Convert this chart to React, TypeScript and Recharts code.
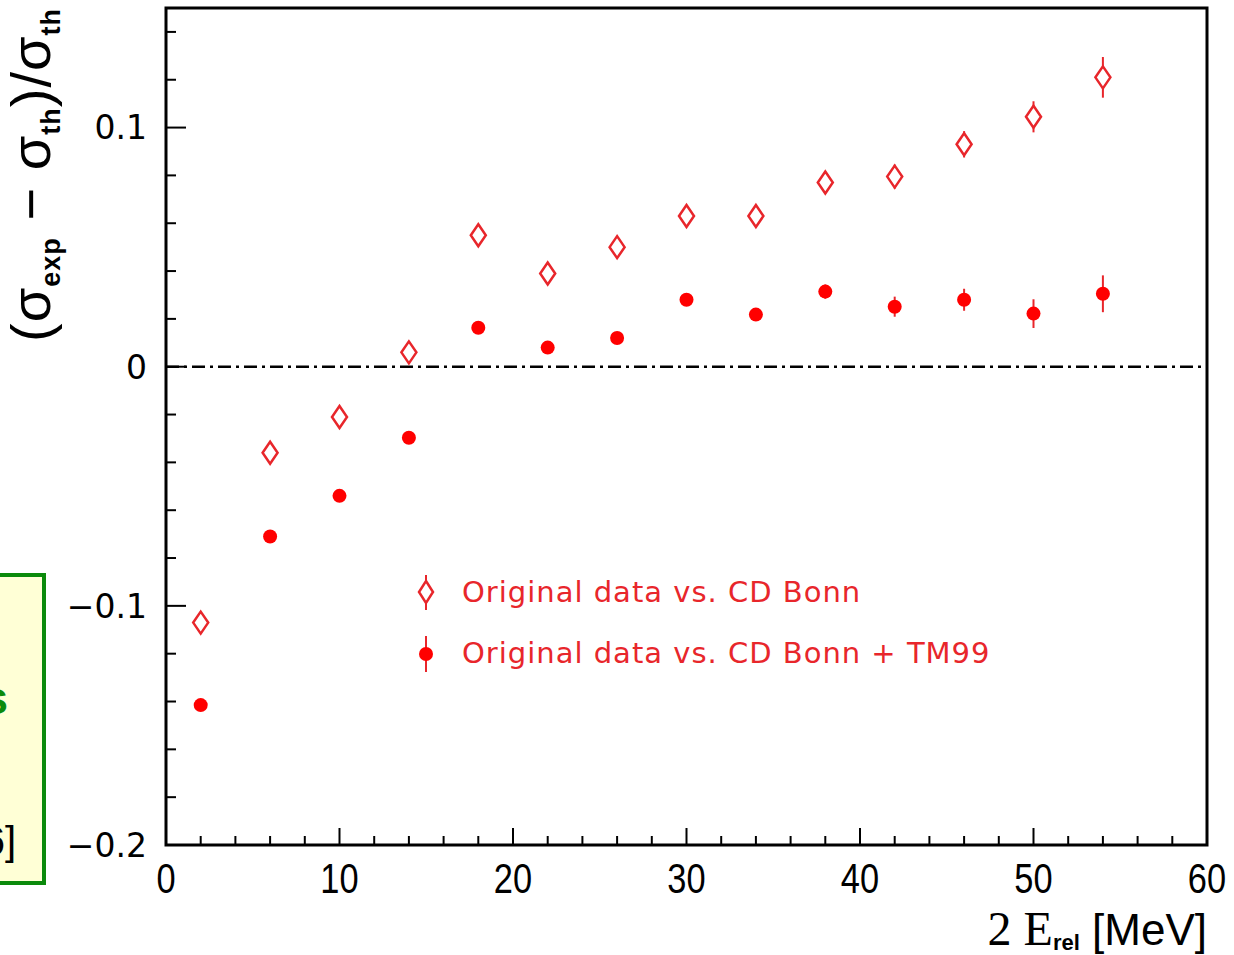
import {
  ScatterChart,
  Scatter,
  XAxis,
  YAxis,
  ErrorBar,
  ReferenceLine,
  ReferenceArea,
} from 'recharts';

// 2 E_rel [MeV] bin centres
const energies = [2, 6, 10, 14, 18, 22, 26, 30, 34, 38, 42, 46, 50, 54];

// (sigma_exp - sigma_th) / sigma_th, original data vs. CD Bonn
const vsCdBonn = [-0.107, -0.036, -0.021, 0.006, 0.055, 0.039, 0.05, 0.063, 0.063, 0.077, 0.0795, 0.093, 0.1045, 0.121];
const vsCdBonnErr = [0.003, 0.003, 0.003, 0.003, 0.003, 0.003, 0.003, 0.004, 0.004, 0.0045, 0.005, 0.0055, 0.0065, 0.0085];

// original data vs. CD Bonn + TM99
const vsCdBonnTm99 = [-0.1415, -0.071, -0.054, -0.0297, 0.0163, 0.008, 0.012, 0.028, 0.0218, 0.0314, 0.0251, 0.028, 0.0222, 0.0305];
const vsCdBonnTm99Err = [0.002, 0.002, 0.002, 0.002, 0.002, 0.002, 0.002, 0.0025, 0.0025, 0.003, 0.0042, 0.0046, 0.006, 0.0077];

const seriesNames = ['Original data vs. CD Bonn', 'Original data vs. CD Bonn + TM99'];

const xTicks = [0, 2, 4, 6, 8, 10, 12, 14, 16, 18, 20, 22, 24, 26, 28, 30, 32, 34, 36, 38, 40, 42, 44, 46, 48, 50, 52, 54, 56, 58, 60];
const xLabels = [0, 10, 20, 30, 40, 50, 60];
const yTicks = [-0.2, -0.18, -0.16, -0.14, -0.12, -0.1, -0.08, -0.06, -0.04, -0.02, 0, 0.02, 0.04, 0.06, 0.08, 0.1, 0.12, 0.14];
const yLabels = [-0.2, -0.1, 0, 0.1];

const RED = '#e8262b';
const DOT_RED = '#ff0000';
const SANS = '"Liberation Sans", Arial, sans-serif';

const cdBonnData = energies.map((x, i) => ({ x, y: vsCdBonn[i], err: vsCdBonnErr[i] }));
const tm99Data = energies.map((x, i) => ({ x, y: vsCdBonnTm99[i], err: vsCdBonnTm99Err[i] }));

const isLabel = (list: number[], v: number) => list.some((l) => Math.abs(l - v) < 1e-9);

const fmtY = (v: number) => {
  if (Math.abs(v) < 1e-9) return '0';
  return (v < 0 ? '\u2212' : '') + Math.abs(v).toString();
};

const XTick = ({ x, y, payload }: any) => {
  const major = isLabel(xLabels, payload.value);
  return (
    <g>
      <line x1={x} x2={x} y1={y} y2={y - (major ? 17 : 9)} stroke="#000" strokeWidth={2} />
      {major && (
        <text
          x={x}
          y={y + 48}
          textAnchor="middle"
          fill="#000"
          transform={`translate(${x},0) scale(0.8,1) translate(${-x},0)`}
          style={{ fontFamily: SANS, fontSize: 43 }}
        >
          {payload.value}
        </text>
      )}
    </g>
  );
};

const YTick = ({ x, y, payload }: any) => {
  const major = isLabel(yLabels, payload.value);
  return (
    <g>
      <line x1={x} x2={x + (major ? 20 : 10)} y1={y} y2={y} stroke="#000" strokeWidth={2} />
      {major && (
        <text
          x={x - 19}
          y={y}
          dy="0.36em"
          textAnchor="end"
          fill="#000"
          style={{ fontFamily: '"DejaVu Sans", sans-serif', fontSize: 33 }}
        >
          {fmtY(payload.value)}
        </text>
      )}
    </g>
  );
};

const Diamond = (props: any) => {
  const { cx, cy } = props;
  if (cx == null || cy == null) return <g />;
  return (
    <path
      d={`M${cx},${cy - 11} L${cx + 7.5},${cy} L${cx},${cy + 11} L${cx - 7.5},${cy} Z`}
      fill="#fff"
      stroke={RED}
      strokeWidth={2.5}
    />
  );
};

const Dot = (props: any) => {
  const { cx, cy } = props;
  if (cx == null || cy == null) return <g />;
  return <circle cx={cx} cy={cy} r={7} fill={DOT_RED} />;
};

const legendText = { fontFamily: '"DejaVu Sans", sans-serif', fontSize: 29, letterSpacing: 1 };

export default function App() {
  return (
    <div style={{ position: 'absolute', left: 0, top: 0, width: 1234, height: 955, overflow: 'hidden', background: '#fff' }}>
      {/* partially visible note box at the left edge */}
      <div
        style={{
          position: 'absolute',
          left: -300,
          top: 573,
          width: 346,
          height: 312,
          boxSizing: 'border-box',
          border: '4px solid #0b8a0b',
          background: '#ffffd6',
        }}
      >
        <div
          style={{
            position: 'absolute',
            right: 34,
            top: 98,
            color: '#0b8a0b',
            fontFamily: SANS,
            fontWeight: 'bold',
            fontSize: 46,
            lineHeight: 1,
          }}
        >
          s
        </div>
        <div
          style={{
            position: 'absolute',
            right: 26,
            top: 244,
            color: '#000',
            fontFamily: SANS,
            fontSize: 40,
            lineHeight: 1,
          }}
        >
          6]
        </div>
      </div>

      <div style={{ position: 'absolute', left: 0, top: 0 }}>
        <ScatterChart width={1234} height={955} margin={{ top: 8, right: 27, left: 0, bottom: 0 }}>
          <XAxis
            type="number"
            dataKey="x"
            domain={[0, 60]}
            ticks={xTicks}
            interval={0}
            tick={<XTick />}
            tickLine={false}
            axisLine={false}
            tickSize={0}
            tickMargin={0}
            height={110}
            allowDataOverflow
          />
          <YAxis
            type="number"
            dataKey="y"
            domain={[-0.2, 0.15]}
            ticks={yTicks}
            interval={0}
            tick={<YTick />}
            tickLine={false}
            axisLine={false}
            tickSize={0}
            tickMargin={0}
            width={166}
            allowDataOverflow
          />
          <ReferenceArea x1={0} x2={60} y1={-0.2} y2={0.15} fill="none" fillOpacity={0} stroke="#000" strokeWidth={3} ifOverflow="visible" />
          <ReferenceLine y={0} stroke="#000" strokeWidth={2.5} strokeDasharray="13 5 3 5" />
          <Scatter name={seriesNames[0]} data={cdBonnData} shape={Diamond} isAnimationActive={false}>
            <ErrorBar dataKey="err" direction="y" width={0} stroke={RED} strokeWidth={2} isAnimationActive={false} />
          </Scatter>
          <Scatter name={seriesNames[1]} data={tm99Data} shape={Dot} isAnimationActive={false}>
            <ErrorBar dataKey="err" direction="y" width={0} stroke={RED} strokeWidth={2} isAnimationActive={false} />
          </Scatter>
        </ScatterChart>
      </div>

      {/* legend and axis titles */}
      <svg width={1234} height={955} style={{ position: 'absolute', left: 0, top: 0, pointerEvents: 'none' }}>
        <g transform="translate(410, 570)">
          <line x1={16} x2={16} y1={5} y2={40} stroke={RED} strokeWidth={2} />
          <path d="M16,11 L23,22 L16,33 L9,22 Z" fill="#fff" stroke={RED} strokeWidth={2.5} />
          <text x={52} y={22} dy="0.36em" fill={RED} style={legendText}>
            {seriesNames[0]}
          </text>
          <line x1={16} x2={16} y1={66} y2={102} stroke={RED} strokeWidth={2} />
          <circle cx={16} cy={84} r={7} fill={DOT_RED} />
          <text x={52} y={83} dy="0.36em" fill={RED} style={legendText}>
            {seriesNames[1]}
          </text>
        </g>

        <text x={1207} y={945} textAnchor="end" fill="#000">
          <tspan style={{ fontFamily: '"Liberation Serif", serif', fontSize: 48 }}>2 E</tspan>
          <tspan dy={5} style={{ fontFamily: SANS, fontSize: 22, fontWeight: 'bold' }}>rel</tspan>
          <tspan dy={-5} style={{ fontFamily: SANS, fontSize: 44 }} transform="scale(0.85,1)"> [MeV]</tspan>
        </text>

        <text transform="translate(50, 8) rotate(-90)" textAnchor="end" fill="#000" style={{ fontFamily: SANS, fontSize: 56, letterSpacing: 1 }}>
          <tspan style={{ fontWeight: 300 }}>(</tspan>
          <tspan>σ</tspan>
          <tspan dy={10} style={{ fontSize: 27, fontWeight: 'bold' }}>exp</tspan>
          <tspan dy={-10}> − σ</tspan>
          <tspan dy={10} style={{ fontSize: 27, fontWeight: 'bold' }}>th</tspan>
          <tspan dy={-10}>)/σ</tspan>
          <tspan dy={10} style={{ fontSize: 27, fontWeight: 'bold' }}>th</tspan>
        </text>
      </svg>
    </div>
  );
}
